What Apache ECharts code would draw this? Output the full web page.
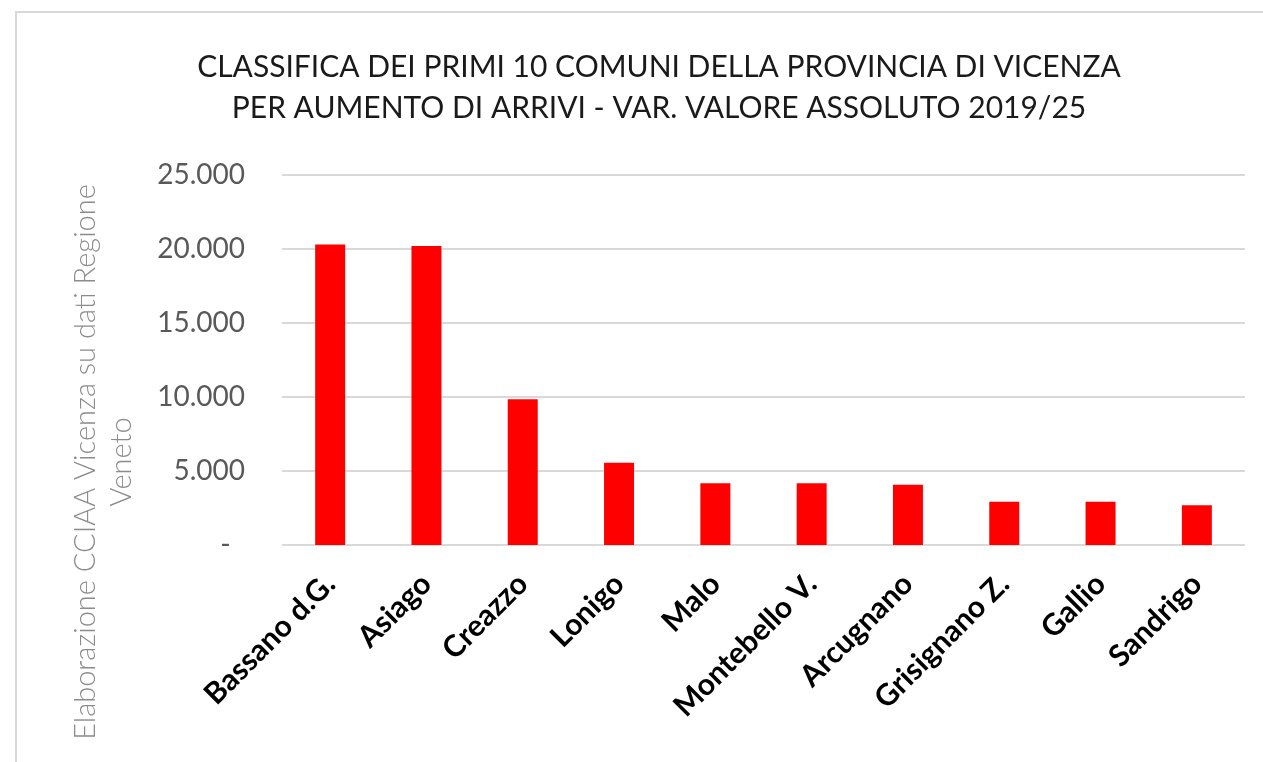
<!DOCTYPE html>
<html>
<head>
<meta charset="utf-8">
<script src="https://cdn.jsdelivr.net/npm/echarts@6/dist/echarts.min.js"></script>
<style>
  html, body { margin: 0; padding: 0; background: #fff; }
  #chart { width: 1263px; height: 762px; }
</style>
</head>
<body>
<div id="chart"></div>
<script>
const comuni = ['Bassano d.G.', 'Asiago', 'Creazzo', 'Lonigo', 'Malo', 'Montebello V.', 'Arcugnano', 'Grisignano Z.', 'Gallio', 'Sandrigo'];
const variazioneArrivi = [20300, 20200, 9850, 5550, 4180, 4180, 4070, 2930, 2930, 2680];
const yTicks = [0, 5000, 10000, 15000, 20000, 25000];

const titolo = 'CLASSIFICA DEI PRIMI 10 COMUNI DELLA PROVINCIA DI VICENZA\nPER AUMENTO DI ARRIVI - VAR. VALORE ASSOLUTO 2019/25';
const fonte = 'Elaborazione CCIAA Vicenza su dati Regione\nVeneto';

const formatMigliaia = (v) => {
    if (v === 0) return '-  ';
    return String(v).replace(/\B(?=(\d{3})+(?!\d))/g, '.');
};

const getOption = () => {
    return {
        animation: false,
        title: {
            text: titolo,
            left: 654,
            top: 42,
            textAlign: 'center',
            textStyle: {
                fontFamily: 'Lato',
                fontSize: 30,
                fontWeight: 400,
                color: '#1a1a1a',
                lineHeight: 41
            }
        },
        graphic: [
            {
                type: 'rect',
                shape: { x: 16, y: 12, width: 1300, height: 800 },
                style: { fill: 'none', stroke: '#d9d9d9', lineWidth: 2 },
                silent: true
            },
            {
                type: 'text',
                x: 104,
                y: 462,
                rotation: Math.PI / 2,
                style: {
                    text: fonte,
                    align: 'center',
                    verticalAlign: 'middle',
                    font: '300 29px Lato',
                    fill: '#8c8c8c',
                    lineHeight: 36
                }
            }
        ],
        grid: {
            left: 282,
            right: 18,
            top: 175,
            bottom: 217
        },
        xAxis: {
            type: 'category',
            data: comuni,
            axisLine: { show: false },
            axisTick: { show: false },
            axisLabel: {
                rotate: 45,
                interval: 0,
                margin: 34,
                fontFamily: 'Lato',
                fontSize: 30,
                fontWeight: 'bold',
                color: '#000'
            }
        },
        yAxis: {
            type: 'value',
            min: yTicks[0],
            max: yTicks[yTicks.length - 1],
            interval: 5000,
            axisLine: { show: false },
            axisTick: { show: false },
            splitLine: { lineStyle: { color: '#d9d9d9', width: 2 } },
            axisLabel: {
                margin: 37,
                fontFamily: 'Lato',
                fontSize: 28,
                color: '#595959',
                formatter: formatMigliaia
            }
        },
        series: [
            {
                type: 'bar',
                data: variazioneArrivi,
                barWidth: 30,
                itemStyle: { color: '#ff0000' }
            }
        ]
    };
};

window.addEventListener('load', () => {
    const chart = echarts.init(document.getElementById('chart'));
    chart.setOption(getOption());
});
</script>
</body>
</html>
